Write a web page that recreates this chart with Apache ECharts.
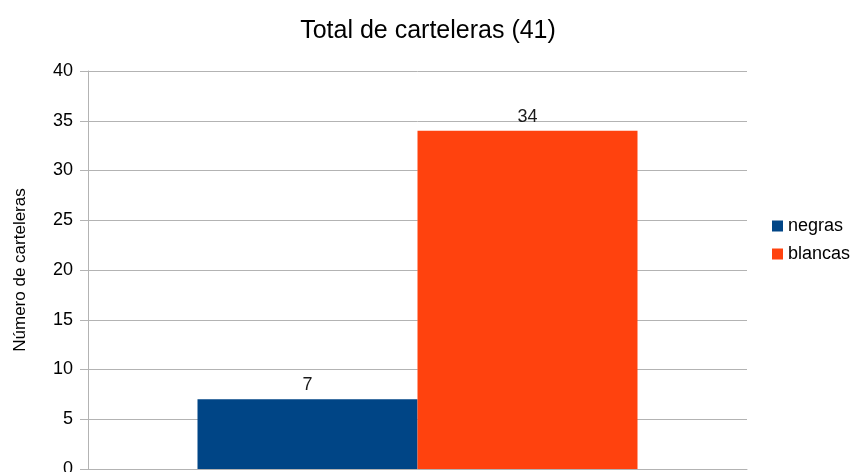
<!DOCTYPE html>
<html>
<head>
<meta charset="utf-8">
<script src="https://cdn.jsdelivr.net/npm/echarts@6/dist/echarts.min.js"></script>
<style>
  html, body { margin: 0; padding: 0; background: #fff; }
  #chart { width: 856px; height: 472px; }
</style>
</head>
<body>
<div id="chart"></div>
<script>
// datos del gráfico
const categories = [''];
const negras = [7];
const blancas = [34];
const seriesNames = ['negras', 'blancas'];

const font = 'Liberation Sans';
const chart = echarts.init(document.getElementById('chart'));

const barLabel = {
    show: true,
    position: 'top',
    distance: 5,
    color: '#1a1a1a',
    fontFamily: font,
    fontSize: 18
};

chart.setOption({
    animation: false,
    title: {
        text: 'Total de carteleras (41)',
        left: 'center',
        top: 14,
        textStyle: { fontFamily: font, fontSize: 25, fontWeight: 'normal', color: '#000' }
    },
    legend: {
        data: seriesNames,
        orient: 'vertical',
        left: 767,
        top: 212,
        itemWidth: 11,
        itemHeight: 11,
        itemGap: 10,
        icon: 'rect',
        textStyle: { fontFamily: font, fontSize: 18, color: '#000' }
    },
    grid: { left: 88, right: 109, top: 71, bottom: 3, outerBoundsMode: 'none' },
    xAxis: {
        type: 'category',
        data: categories,
        axisLine: { lineStyle: { color: '#b3b3b3', width: 1 } },
        axisTick: { show: false },
        axisLabel: { show: false }
    },
    yAxis: {
        type: 'value',
        min: 0,
        max: 40,
        interval: 5,
        name: 'Número de carteleras',
        nameLocation: 'middle',
        nameGap: 59,
        nameTextStyle: { fontFamily: font, fontSize: 17, color: '#000' },
        axisLine: { show: true, lineStyle: { color: '#b3b3b3' } },
        axisTick: { show: true, length: 8, lineStyle: { color: '#b3b3b3' } },
        axisLabel: { fontFamily: font, fontSize: 18, color: '#000', margin: 15 },
        splitLine: { lineStyle: { color: '#b3b3b3' } }
    },
    series: [
        {
            name: 'negras',
            type: 'bar',
            data: negras,
            barWidth: 220,
            barGap: '0%',
            itemStyle: { color: '#004586' },
            label: barLabel
        },
        {
            name: 'blancas',
            type: 'bar',
            data: blancas,
            barWidth: 220,
            itemStyle: { color: '#ff420e' },
            label: barLabel
        }
    ]
});
</script>
</body>
</html>
